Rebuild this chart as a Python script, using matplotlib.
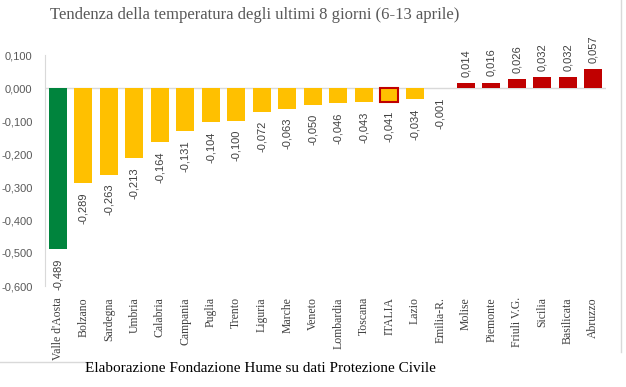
import numpy as np
import matplotlib.pyplot as plt
from matplotlib.lines import Line2D

regions = ["Valle d'Aosta", "Bolzano", "Sardegna", "Umbria", "Calabria", "Campania",
           "Puglia", "Trento", "Liguria", "Marche", "Veneto", "Lombardia", "Toscana",
           "ITALIA", "Lazio", "Emilia-R.", "Molise", "Piemonte", "Friuli V.G.",
           "Sicilia", "Basilicata", "Abruzzo"]
values = [-0.489, -0.289, -0.263, -0.213, -0.164, -0.131, -0.104, -0.100, -0.072,
          -0.063, -0.050, -0.046, -0.043, -0.041, -0.034, -0.001, 0.014, 0.016,
          0.026, 0.032, 0.032, 0.057]
yticks = [0.1, 0.0, -0.1, -0.2, -0.3, -0.4, -0.5, -0.6]

GREEN = "#00843d"
YELLOW = "#ffc000"
RED = "#c00000"
GREY = "#595959"

def main():
    fig = plt.figure(figsize=(6.26, 3.87), dpi=100)
    ax = fig.add_axes([45/626, 1-286/387, (606-45)/626, (286-55)/387])

    x = np.arange(len(regions))
    colors = []
    for i, v in enumerate(values):
        if i == 0:
            colors.append(GREEN)
        elif v < 0:
            colors.append(YELLOW)
        else:
            colors.append(RED)
    bars = ax.bar(x, values, width=0.72, color=colors, zorder=3)
    # ITALIA highlighted with a red border
    it = regions.index("ITALIA")
    bars[it].set_edgecolor(RED)
    bars[it].set_linewidth(1.5)

    ax.set_xlim(-0.5, len(regions) - 0.5)
    ax.set_ylim(-0.6, 0.1)
    ax.set_yticks(yticks)
    ax.set_yticklabels([("%.3f" % t).replace(".", ",") for t in yticks],
                       fontsize=8, color=GREY, family="Liberation Sans")
    ax.tick_params(axis="y", length=0, pad=9)
    ax.set_xticks([])
    for s in ["top", "right", "bottom"]:
        ax.spines[s].set_visible(False)
    ax.spines["left"].set_color("#d9d9d9")
    ax.axhline(0, color="#d9d9d9", lw=1, zorder=2)

    # value labels
    for i, v in enumerate(values):
        lab = ("%.3f" % v).replace(".", ",")
        if v < 0:
            ax.annotate(lab, (i, v), xytext=(0, -6.5), textcoords="offset points",
                        rotation=90, ha="center", va="top", fontsize=8,
                        color="#404040", family="Liberation Sans")
        else:
            ax.annotate(lab, (i, v), xytext=(0, 4.5), textcoords="offset points",
                        rotation=90, ha="center", va="bottom", fontsize=8,
                        color="#404040", family="Liberation Sans")

    # category labels
    for i, name in enumerate(regions):
        ax.annotate(name, (i, -0.6), xytext=(0, -8), textcoords="offset points",
                    rotation=90, ha="center", va="top", fontsize=8.5,
                    color="#404040", family="Liberation Serif")

    fig.text(255/626, 1-15/387, "Tendenza della temperatura degli ultimi 8 giorni (6-13 aprile)",
             ha="center", va="center", fontsize=12, color=GREY, family="Liberation Serif")
    fig.text(260/626, 1-368/387, "Elaborazione Fondazione Hume su dati Protezione Civile",
             ha="center", va="center", fontsize=11, color="black", family="Liberation Serif")

    # leftover frame lines from the original layout
    fig.add_artist(Line2D([620.5/626, 620.5/626], [1, 1-352/387], color="#d9d9d9", lw=1))
    fig.add_artist(Line2D([0, 92/626], [1-362/387, 1-362/387], color="#d9d9d9", lw=1))

    fig.savefig("out.png", dpi=100)

if __name__ == "__main__":
    main()
